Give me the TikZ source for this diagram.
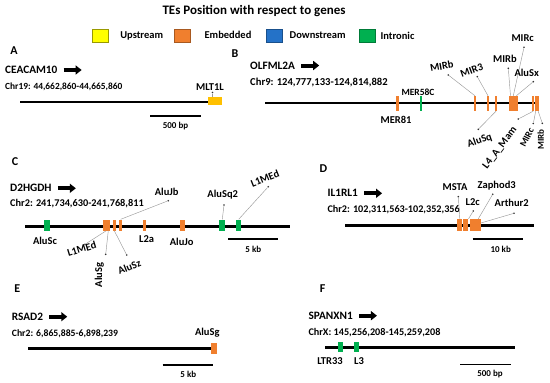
\documentclass[tikz,border=0pt]{standalone}
\usepackage{fontspec}
\setmainfont{Carlito}
\usetikzlibrary{arrows.meta}
\definecolor{teor}{HTML}{F07F2E}
\definecolor{teyel}{HTML}{FFFF00}
\definecolor{tegold}{HTML}{FFC000}
\definecolor{teblue}{HTML}{2472C8}
\definecolor{tegreen}{HTML}{00B050}
\definecolor{leadgray}{HTML}{9A9A9A}
\begin{document}
\begin{tikzpicture}[x=1pt,y=-1pt,
  every node/.style={font=\bfseries\fontsize{10.5}{12}\selectfont, inner sep=0pt},
  title/.style={font=\bfseries\fontsize{13}{15}\selectfont},
  genename/.style={anchor=west, font=\bfseries\fontsize{11.3}{13}\selectfont},
  chrlab/.style={anchor=west, font=\bfseries\fontsize{#1}{12}\selectfont},
  panel/.style={font=\bfseries\fontsize{12}{14}\selectfont},
  scalelab/.style={font=\bfseries\fontsize{9}{11}\selectfont},
  smalllab/.style={font=\bfseries\fontsize{#1}{11}\selectfont},
  geneline/.style={line width=2.8pt},
  scalebar/.style={line width=1.3pt},
  dirarrow/.style={line width=4pt, -{Triangle[length=6pt,width=9pt]}},
  tebox/.style={rectangle, draw=none, minimum width=#1, minimum height=11pt},
  tick/.style={rectangle, draw=none, fill=teor, minimum width=2.4pt, minimum height=15pt},
  legbox/.style={rectangle, minimum width=16pt, minimum height=13pt, line width=0.5pt},
  lead/.style={draw=leadgray, line width=0.45pt},
  leaddot/.style={circle, fill=black!80, minimum size=1.8pt, inner sep=0pt},
]
\useasboundingbox (0,0) rectangle (550,383);

% ---------- title and legend ----------
\node[title] (ttl) at (254,11) {TEs Position with respect to genes};
\node[legbox, fill=teyel, draw=teyel!60!black] (lg1) at (100,36) {};
\node (lt1) at (141.7,35.5) {Upstream};
\node[legbox, fill=teor, draw=teor!70!black] (lg2) at (182,36) {};
\node (lt2) at (228,35) {Embedded};
\node[legbox, fill=teblue, draw=teblue!70!black] (lg3) at (274,36) {};
\node (lt3) at (317.7,35) {Downstream};
\node[legbox, fill=tegreen, draw=tegreen!70!black] (lg4) at (367,36) {};
\node (lt4) at (397.5,35.5) {Intronic};

% ---------- panel A ----------
\node[panel] (pA) at (14,51) {A};
\node[genename] (gA) at (5,70) {CEACAM10};
\draw[dirarrow] ([xshift=6pt]gA.east) -- ++(18,0);
\node[chrlab=9.4] (cA) at (5,87) {Chr19: 44,662,860-44,665,860};
\coordinate (lA1) at (20,102);
\coordinate (lA2) at (210,102);
\draw[geneline] (lA1) -- (lA2);
\node[tebox=14pt, fill=tegold, minimum height=8pt] (mlt) at (215,101.3) {};
\node (tmlt) at (210,87) {MLT1L};
\node[leaddot] (dA) at (212.5,92.5) {};
\draw[lead] (dA) -- (dA |- mlt.north);
\coordinate (sA1) at (150,116);
\coordinate (sA2) at (201,116);
\draw[scalebar] (sA1) -- (sA2);
\node[scalelab] (sAl) at (175.5,126) {500 bp};

% ---------- panel B ----------
\node[panel] (pB) at (235,54) {B};
\node[genename] (gB) at (250,65.5) {OLFML2A};
\draw[dirarrow] ([xshift=6pt]gB.east) -- ++(18,0);
\node[chrlab=10.6] (cB) at (250,82.5) {Chr9: 124,777,133-124,814,882};
\coordinate (lB1) at (265,103);
\coordinate (lB2) at (539,103);
\draw[geneline] (lB1) -- (lB2);
\node[tick] (b0) at (397.5,103.5) {};
\node[tick, fill=tegreen] (g1) at (420.7,103.5) {};
\node[tick] (b1) at (475,103.5) {};
\node[tick] (b2) at (488,103.5) {};
\node[tick] (b3) at (496,103.5) {};
\node[tick] (b4) at (510.5,103.5) {};
\node[tick] (b5) at (513.3,103.5) {};
\node[tick] (b6) at (516.3,103.5) {};
\node[tick] (b7) at (533.2,103.5) {};
\node[tick] (b8) at (535.7,103.5) {};
\node[tick] (b9) at (538.2,103.5) {};
\node (tb0) at (396,120) {MER81};
\node[smalllab=9.5] (tg1) at (418,92) {MER58C};
% labels above
\node[rotate=10] (tb1) at (441.7,66) {MIRb};
\node[leaddot] (db1) at (448.3,75) {};
\draw[lead] (db1) -- (b1.north);
\node[rotate=20] (tb2) at (471.7,70) {MIR3};
\node[leaddot] (db2) at (477.3,76.7) {};
\draw[lead] (db2) -- (b2.north);
\node (tb4) at (505,59.3) {MIRb};
\node[leaddot] (db4) at (508.3,68.3) {};
\draw[lead] (db4) -- (b4.north);
\node (tb5) at (522.7,38.3) {MIRc};
\node[leaddot] (db5) at (524,47.3) {};
\draw[lead] (db5) -- (b5.north);
\node (tb6) at (526.7,72.7) {AluSx};
\node[leaddot] (db6) at (533.3,81.7) {};
\draw[lead] (db6) -- (b6.north);
% labels below
\node[rotate=19] (tb3) at (479.7,140.8) {AluSq};
\node[leaddot] (db3) at (478.3,129.3) {};
\draw[lead] (db3) -- (b3.south);
\node[rotate=53] (tb7) at (500,148) {L4\_A\_Mam};
\node[leaddot] (db7) at (518.3,119) {};
\draw[lead] (db7) -- (b7.south);
\node[rotate=63, smalllab=9.5] (tb8) at (527,137.5) {MIRc};
\node[leaddot] (db8) at (533.3,123.5) {};
\draw[lead] (db8) -- (b8.south);
\node[rotate=90, smalllab=9] (tb9) at (540.7,139.7) {MIRb};
\node[leaddot] (db9) at (542.3,123.3) {};
\draw[lead] (db9) -- (b9.south);

% ---------- panel C ----------
\node[panel] (pC) at (15,162) {C};
\node[genename] (gC) at (10,188.3) {D2HGDH};
\draw[dirarrow] ([xshift=6pt]gC.east) -- ++(18,0);
\node[chrlab=10.3] (cC) at (10,204) {Chr2: 241,734,630-241,768,811};
\coordinate (lC1) at (25,226.5);
\coordinate (lC2) at (290,226.5);
\draw[geneline] (lC1) -- (lC2);
\node[tebox=6pt, fill=tegreen] (c0) at (46.7,225) {};
\node[tebox=7.5pt, fill=teor] (c1) at (106.3,225) {};
\node[tebox=3pt, fill=teor] (c2) at (114.3,225) {};
\node[tebox=3pt, fill=teor] (c3) at (120.7,225) {};
\node[tebox=3pt, fill=teor] (c4) at (144,225) {};
\node[tebox=5pt, fill=teor] (c5) at (182,225) {};
\node[tebox=6pt, fill=tegreen] (c6) at (222.3,225) {};
\node[tebox=5pt, fill=tegreen] (c7) at (238.7,225) {};
\node (tc0) at (45,240.7) {AluSc};
\node (tc4) at (146.7,239.3) {L2a};
\node (tc5) at (181.7,241.7) {AluJo};
\node (tc6) at (222.7,195) {AluSq2};
\node[leaddot] (dc6) at (224,205) {};
\draw[lead] (dc6) -- (c6.north);
\node[rotate=22] (tc7) at (265,178.3) {L1MEd};
\node[leaddot] (dc7) at (268.3,186.7) {};
\draw[lead] (dc7) -- (c7.north);
\node (tc3) at (166.7,191.7) {AluJb};
\node[leaddot] (dc3) at (168.3,200.7) {};
\draw[lead] (dc3) -- (c3.north);
\node[rotate=17] (tc1) at (81.7,249) {L1MEd};
\node[leaddot] (dc1) at (85,244.3) {};
\draw[lead] (dc1) -- (c1.south);
\node[rotate=90] (tc1b) at (99.3,275) {AluSg};
\node[leaddot] (dc1b) at (105.7,254.3) {};
\draw[lead] (dc1b) -- ([xshift=2pt]c1.south);
\node[rotate=22] (tc2) at (129.3,266.7) {AluSz};
\node[leaddot] (dc2) at (126.7,255) {};
\draw[lead] (dc2) -- (c2.south);
\coordinate (sC1) at (228.3,239);
\coordinate (sC2) at (278.3,239);
\draw[scalebar] (sC1) -- (sC2);
\node[scalelab] (sCl) at (253.3,249.3) {5 kb};

% ---------- panel D ----------
\node[panel] (pD) at (323.3,168.3) {D};
\node[genename] (gD) at (327.3,193.3) {IL1RL1};
\draw[dirarrow] ([xshift=6pt]gD.east) -- ++(18,0);
\node[chrlab=10.2] (cD) at (327.3,209.3) {Chr2: 102,311,563-102,352,356};
\coordinate (lD1) at (345,225.3);
\coordinate (lD2) at (534,225.3);
\draw[geneline] (lD1) -- (lD2);
\node[tebox=5pt, fill=teor, minimum height=12pt] (d1) at (459.8,225) {};
\node[tebox=5pt, fill=teor, minimum height=12pt] (d2) at (465.8,225) {};
\node[tebox=10.7pt, fill=teor, minimum height=12pt] (d3) at (475.3,225) {};
\node (td1) at (455,187.3) {MSTA};
\node[leaddot] (dd1) at (458.3,196.7) {};
\draw[lead] (dd1) -- (d1.north);
\node (td2) at (472.7,201.7) {L2c};
\node[leaddot] (dd2) at (473.3,211) {};
\draw[lead] (dd2) -- (d2.north east);
\node (td3) at (496.7,186) {Zaphod3};
\node[leaddot] (dd3) at (492.7,194.3) {};
\draw[lead] (dd3) -- ([xshift=3pt]d3.north);
\node (td4) at (511.7,203.3) {Arthur2};
\node[leaddot] (dd4) at (514,213.3) {};
\draw[lead] (dd4) -- ([yshift=2pt]d3.east);
\coordinate (sD1) at (472.7,239);
\coordinate (sD2) at (523.3,239);
\draw[scalebar] (sD1) -- (sD2);
\node[scalelab] (sDl) at (500.7,249) {10 kb};

% ---------- panel E ----------
\node[panel] (pE) at (17.3,288.3) {E};
\node[genename] (gE) at (11.7,316.7) {RSAD2};
\draw[dirarrow] ([xshift=6pt]gE.east) -- ++(18,0);
\node[chrlab=9.7] (cE) at (11.7,333.3) {Chr2: 6,865,885-6,898,239};
\coordinate (lE1) at (28.3,348.3);
\coordinate (lE2) at (213,348.3);
\draw[geneline] (lE1) -- (lE2);
\node[tebox=6.3pt, fill=teor] (e1) at (214.2,348.8) {};
\node (te1) at (207.3,332.3) {AluSg};
\coordinate (sE1) at (162.7,365);
\coordinate (sE2) at (213.3,365);
\draw[scalebar] (sE1) -- (sE2);
\node[scalelab] (sEl) at (188.3,374.3) {5 kb};

% ---------- panel F ----------
\node[panel] (pF) at (322.7,289) {F};
\node[genename] (gF) at (308.3,315.7) {SPANXN1};
\draw[dirarrow] ([xshift=6pt]gF.east) -- ++(18,0);
\node[chrlab=10.2] (cF) at (308.3,332.3) {ChrX: 145,256,208-145,259,208};
\coordinate (lF1) at (325,347.7);
\coordinate (lF2) at (515,347.7);
\draw[geneline] (lF1) -- (lF2);
\node[tebox=5pt, fill=tegreen, minimum height=10.6pt] (f1) at (340.8,347) {};
\node[tebox=5pt, fill=tegreen, minimum height=10.6pt] (f2) at (356.8,347) {};
\node (tf1) at (330,361) {LTR33};
\node (tf2) at (359,361) {L3};
\coordinate (sF1) at (460,364.3);
\coordinate (sF2) at (511,364.3);
\draw[scalebar] (sF1) -- (sF2);
\node[scalelab] (sFl) at (490,374) {500 bp};
\end{tikzpicture}
\end{document}
